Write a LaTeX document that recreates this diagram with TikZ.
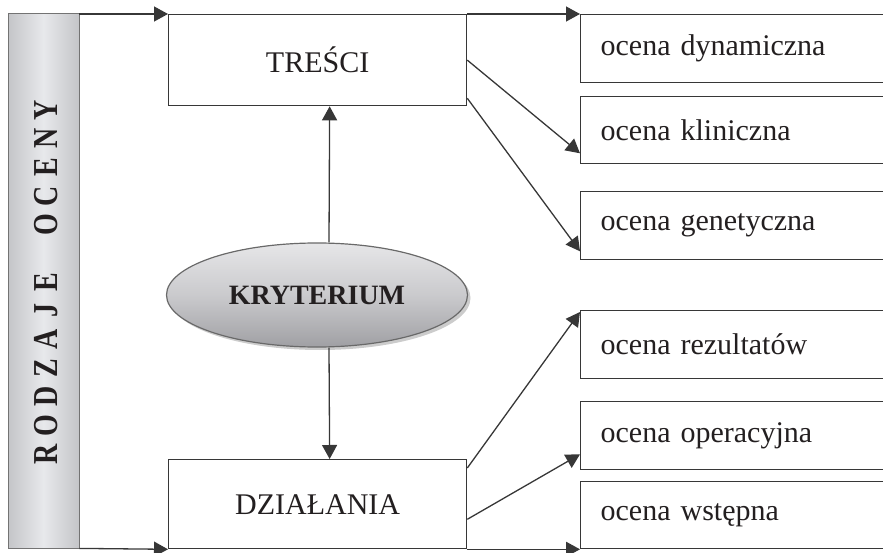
\documentclass[tikz,border=0pt]{standalone}
\usepackage{fontspec}
\setmainfont{Liberation Serif}
\usetikzlibrary{arrows.meta,shapes.geometric,calc,shadows}
\definecolor{ink}{RGB}{55,55,55}
\definecolor{txt}{RGB}{35,31,32}
\definecolor{bardark}{RGB}{118,119,124}
\definecolor{barlight}{RGB}{232,233,235}
\definecolor{elltop}{RGB}{230,230,232}
\definecolor{ellbot}{RGB}{160,160,164}
\tikzset{
  conn/.style={draw=ink, line width=1.3pt},
  arr/.style={conn, -{Triangle[length=14pt,width=15pt]}},
  mainbox/.style={draw=ink, line width=1.3pt, fill=white, minimum width=298pt, inner sep=0pt, anchor=north west, font=\fontsize{30}{36}\selectfont, text=txt},
  sidebox/.style={draw=ink, line width=1.3pt, fill=white, anchor=north west, minimum width=340pt, text width=300pt, align=left, inner xsep=20pt, inner ysep=0pt, font=\fontsize{30}{36}\selectfont, text=txt},
  barletter/.style={rotate=90, font=\fontsize{35}{40}\bfseries\selectfont, text=txt, inner sep=0pt}
}
\begin{document}
\begin{tikzpicture}[x=1pt,y=-1pt]
\useasboundingbox (0,0) rectangle (883,553);
\clip (0,0) rectangle (883,553);
% left bar
\begin{scope}
  \clip (8,14) rectangle (79,548);
  \shade[left color=bardark, right color=bardark, middle color=barlight, rotate around={7.57:(43.5,281)}]
    (43.5-72,281-320) rectangle (43.5+72,281+320);
\end{scope}
\draw[draw=ink!70, line width=1pt] (8,14) rectangle (79,548);
\node[inner sep=0pt, minimum width=71pt, minimum height=534pt, anchor=north west] (bar) at (8,14) {};
\foreach \ch [count=\i from 0] in {R,O,D,Z,A,J,E,{},O,C,E,N,Y}{
  \node[barletter] (rl\i) at (46.5,{454-28.67*\i}) {\scalebox{0.8}[1]{\vphantom{E}\smash{\ch}}};
}
% main boxes
\node[mainbox, minimum height=91pt] (tres) at (168,14) {TREŚCI};
\node[mainbox, minimum height=89pt] (dzial) at (168,459) {DZIAŁANIA};
% side boxes
\node[sidebox, minimum height=68pt] (dyn) at (580,14) {ocena dynamiczna};
\node[sidebox, minimum height=67pt] (klin) at (580,96) {ocena kliniczna};
\node[sidebox, minimum height=68pt] (gen) at (580,191) {ocena genetyczna};
\node[sidebox, minimum height=68pt] (rez) at (580,310) {ocena rezultatów};
\node[sidebox, minimum height=68pt] (oper) at (580,401) {ocena operacyjna};
\node[sidebox, minimum height=67pt] (wst) at (580,481) {ocena wstępna};
% ellipse
\node[ellipse, draw=ink!75, line width=1.2pt, minimum width=301pt, minimum height=104pt, inner sep=0pt,
      top color=elltop, bottom color=ellbot, middle color=ellbot!40!elltop,
      drop shadow={shadow xshift=3pt, shadow yshift=-3pt, fill=gray!45, opacity=0.9},
      font=\fontsize{28}{34}\bfseries\selectfont, text=txt] (kry) at (317,295) {KRYTERIUM};
% top and bottom lines
\draw[arr] (bar.north east) -- (tres.north west);
\draw[arr] (tres.north east) -- (dyn.north west);
\draw[arr] (bar.south east) -- (dzial.south west);
\draw[arr] (dzial.south east) -- (wst.south west);
% vertical arrows
\draw[arr] ($(kry.north)+(12,0)$) -- ($(tres.south)+(12,0)$);
\draw[arr] ($(kry.south)+(12,0)$) -- ($(dzial.north)+(12,0)$);
% diagonal arrows
\draw[arr] (tres.east) -- ($(klin.south west)+(0,-11)$);
\draw[arr] ($(tres.south east)+(0,-8)$) -- ($(gen.south west)+(0,-9)$);
\draw[arr] ($(dzial.north east)+(0,9)$) -- ($(rez.north west)+(0,2)$);
\draw[arr] ($(dzial.south east)+(0,-30)$) -- ($(oper.south west)+(0,-16)$);
\end{tikzpicture}
\end{document}
